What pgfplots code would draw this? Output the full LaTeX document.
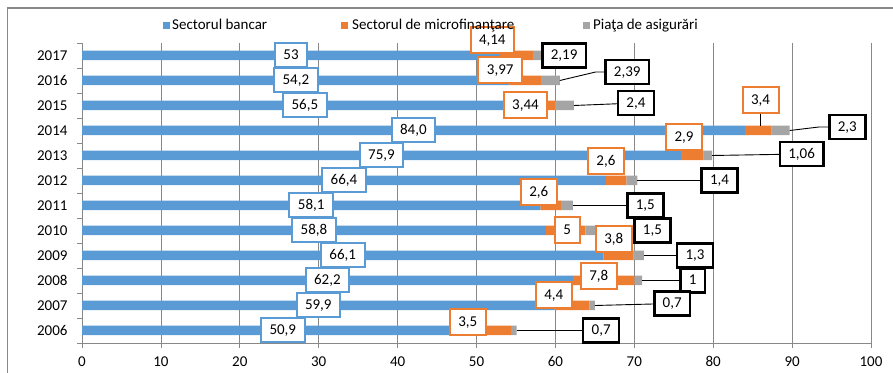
\documentclass[border=0pt]{standalone}
\usepackage{fontspec}
\setmainfont{Carlito}
\usepackage{pgfplots}
\pgfplotsset{compat=1.18}
\usepackage{pgfplotstable}
\definecolor{cBlue}{HTML}{5B9BD5}
\definecolor{cOrange}{HTML}{ED7D31}
\definecolor{cGray}{HTML}{A5A5A5}
\definecolor{cGrid}{HTML}{888888}

\pgfplotstableread{
year bank micro insur
2006 50.9 3.5 0.7
2007 59.9 4.4 0.7
2008 62.2 7.8 1
2009 66.1 3.8 1.3
2010 58.8 5 1.5
2011 58.1 2.6 1.5
2012 66.4 2.6 1.4
2013 75.9 2.9 1.06
2014 84.0 3.4 2.3
2015 56.5 3.44 2.4
2016 54.2 3.97 2.39
2017 53 4.14 2.19
}\datatable

\tikzset{
  lab/.style={fill=white, inner xsep=8.5bp, inner ysep=0pt, minimum height=24bp,
    text height=9.6bp, text depth=0.8bp, font=\fontsize{15bp}{17bp}\selectfont},
  labB/.style={lab, draw=cBlue, line width=2bp},
  labO/.style={lab, draw=cOrange, line width=2bp, minimum height=26bp},
  labK/.style={lab, draw=black, line width=2.6bp, minimum height=24bp},
  lead/.style={draw=black, line width=0.9bp},
}

\begin{document}
\begin{tikzpicture}
\useasboundingbox (0,0) rectangle (893bp,373bp);
\draw[cGrid, line width=1.1bp] (7.5bp,0) -- (7.5bp,365bp) -- (893bp,365bp);
\begin{axis}[
  at={(82bp,30bp)}, anchor=south west,
  scale only axis, width=789bp, height=300bp,
  xbar stacked, bar width=9.5bp,
  xmin=0, xmax=100, ymin=2005.5, ymax=2017.5,
  xtick={0,10,...,100},
  ytick={2006,...,2017},
  minor ytick={2005.5,2006.5,...,2017.5},
  tick align=outside,
  major tick length=5bp, minor tick length=5bp,
  every major y tick/.append style={draw=none},
  tick style={cGrid, line width=0.8bp},
  axis x line*=bottom, axis y line*=left,
  axis line style={cGrid, line width=0.8bp, -},
  xmajorgrids, grid style={cGrid, line width=0.8bp},
  clip=false,
  ticklabel style={font=\fontsize{15bp}{17bp}\selectfont},
  /pgf/number format/.cd, 1000 sep={}, assume math mode=true,
  /pgfplots/.cd,
  yticklabel style={xshift=-6bp},
  xticklabel style={yshift=-5bp},
]
\addplot[fill=cBlue, draw=none] table[x=bank, y=year] {\datatable};
\addplot[fill=cOrange, draw=none] table[x=micro, y=year] {\datatable};
\addplot[fill=cGray, draw=none] table[x=insur, y=year] {\datatable};

% label anchors (blue, orange, gray series)
\coordinate (B17) at (axis cs:26.5,2017);
\coordinate (B16) at (axis cs:27.1,2016);
\coordinate (B15) at (axis cs:28.25,2015);
\coordinate (B14) at (axis cs:42.0,2014);
\coordinate (B13) at (axis cs:37.95,2013);
\coordinate (B12) at (axis cs:33.2,2012);
\coordinate (B11) at (axis cs:29.05,2011);
\coordinate (B10) at (axis cs:29.4,2010);
\coordinate (B09) at (axis cs:33.05,2009);
\coordinate (B08) at (axis cs:31.1,2008);
\coordinate (B07) at (axis cs:29.95,2007);
\coordinate (B06) at (axis cs:25.45,2006);

\coordinate (O17) at (axis cs:52.0,2017.62);
\coordinate (O16) at (axis cs:53.0,2016.4);
\coordinate (O15) at (axis cs:56.2,2015.0);
\coordinate (O14) at (axis cs:86.0,2015.22);
\coordinate (O13) at (axis cs:76.3,2013.72);
\coordinate (O12) at (axis cs:66.4,2012.76);
\coordinate (O11) at (axis cs:57.9,2011.54);
\coordinate (O10) at (axis cs:61.5,2010.0);
\coordinate (O09) at (axis cs:67.4,2009.64);
\coordinate (O08) at (axis cs:65.5,2008.18);
\coordinate (O07) at (axis cs:59.8,2007.42);
\coordinate (O06) at (axis cs:48.9,2006.34);
\coordinate (O14s) at (axis cs:86.0,2014.19);

\coordinate (K17) at (axis cs:61.1,2017.0);
\coordinate (K16) at (axis cs:69.1,2016.34);
\coordinate (K15) at (axis cs:70.2,2015.1);
\coordinate (K14) at (axis cs:97.0,2014.14);
\coordinate (K13) at (axis cs:91.2,2013.06);
\coordinate (K12) at (axis cs:80.8,2012.0);
\coordinate (K11) at (axis cs:71.4,2011.0);
\coordinate (K10) at (axis cs:72.3,2010.0);
\coordinate (K09) at (axis cs:77.7,2009.0);
\coordinate (K08) at (axis cs:77.4,2008.0);
\coordinate (K07) at (axis cs:74.8,2007.08);
\coordinate (K06) at (axis cs:65.8,2006.0);

% leader start points (bar ends) and bends
\coordinate (E16) at (axis cs:60.56,2016);
\coordinate (M16) at (axis cs:65.1,2016.34);
\coordinate (E15) at (axis cs:62.34,2015);
\coordinate (E14) at (axis cs:89.7,2014);
\coordinate (M14) at (axis cs:93.4,2014.14);
\coordinate (E13) at (axis cs:79.86,2013);
\coordinate (E12) at (axis cs:70.4,2012);
\coordinate (E11) at (axis cs:62.2,2011);
\coordinate (E10) at (axis cs:65.3,2010);
\coordinate (E09) at (axis cs:71.2,2009);
\coordinate (E08) at (axis cs:71.0,2008);
\coordinate (E07) at (axis cs:65.0,2007);
\coordinate (E06) at (axis cs:55.1,2006);
\end{axis}

% leader lines
\draw[lead] (E16) -- (M16) -- (K16);
\draw[lead] (E15) -- (K15);
\draw[lead] (E14) -- (M14) -- (K14);
\draw[lead] (E13) -- (K13);
\draw[lead] (E12) -- (K12);
\draw[lead] (E11) -- (K11);
\draw[lead] (E10) -- (K10);
\draw[lead] (E09) -- (K09);
\draw[lead] (E08) -- (K08);
\draw[lead] (E07) -- (K07);
\draw[lead] (E06) -- (K06);
\draw[lead] (O14s) -- (O14);

% blue labels
\node[labB] at (B17) {53};
\node[labB] at (B16) {54,2};
\node[labB] at (B15) {56,5};
\node[labB] at (B14) {84,0};
\node[labB] at (B13) {75,9};
\node[labB] at (B12) {66,4};
\node[labB] at (B11) {58,1};
\node[labB] at (B10) {58,8};
\node[labB] at (B09) {66,1};
\node[labB] at (B08) {62,2};
\node[labB] at (B07) {59,9};
\node[labB] at (B06) {50,9};

% orange labels
\node[labO] at (O17) {4,14};
\node[labO] at (O16) {3,97};
\node[labO] at (O15) {3,44};
\node[labO] at (O14) {3,4};
\node[labO] at (O13) {2,9};
\node[labO] at (O12) {2,6};
\node[labO] at (O11) {2,6};
\node[labO] at (O10) {5};
\node[labO] at (O09) {3,8};
\node[labO] at (O08) {7,8};
\node[labO] at (O07) {4,4};
\node[labO] at (O06) {3,5};

% gray-series labels
\node[labK] at (K17) {2,19};
\node[labK] at (K16) {2,39};
\node[labK] at (K15) {2,4};
\node[labK] at (K14) {2,3};
\node[labK] at (K13) {1,06};
\node[labK] at (K12) {1,4};
\node[labK] at (K11) {1,5};
\node[labK] at (K10) {1,5};
\node[labK] at (K09) {1,3};
\node[labK] at (K08) {1};
\node[labK] at (K07) {0,7};
\node[labK] at (K06) {0,7};

% legend
\begin{scope}[every node/.style={inner sep=0pt, anchor=base west, font=\fontsize{15bp}{17bp}\selectfont}]
\fill[cBlue] (163bp,343.5bp) rectangle (170bp,350.5bp);
\node at (172bp,343bp) {Sectorul bancar};
\fill[cOrange] (341bp,343.5bp) rectangle (348bp,350.5bp);
\node at (352bp,343bp) {Sectorul de microfinanţare};
\fill[cGray] (583bp,343.5bp) rectangle (590bp,350.5bp);
\node at (593bp,343bp) {Piaţa de asigurări};
\end{scope}
\end{tikzpicture}
\end{document}
